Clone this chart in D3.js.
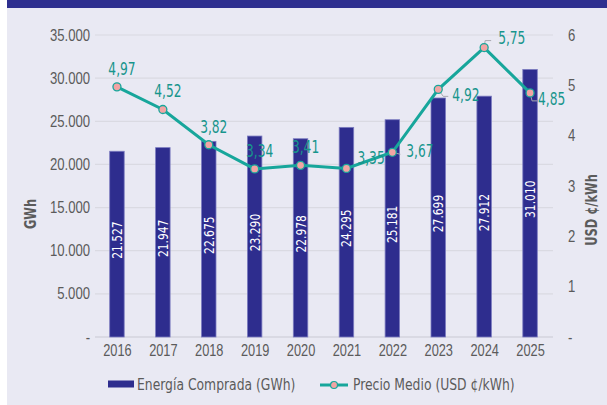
<!DOCTYPE html>
<html>
<head>
<meta charset="utf-8">
<script src="https://cdn.jsdelivr.net/npm/d3@7"></script>
<style>
  body { margin: 0; background: #fff; }
  svg { display: block; font-family: "DejaVu Sans Condensed", "DejaVu Sans", sans-serif; }
</style>
</head>
<body>
<svg width="607" height="405"></svg>
<script>
var years = ["2016", "2017", "2018", "2019", "2020", "2021", "2022", "2023", "2024", "2025"];
var energia = [21527, 21947, 22675, 23290, 22978, 24295, 25181, 27699, 27912, 31010];
var precio = [4.97, 4.52, 3.82, 3.34, 3.41, 3.35, 3.67, 4.92, 5.75, 4.85];
var gwhTicks = [0, 5000, 10000, 15000, 20000, 25000, 30000, 35000];
var priceTicks = [0, 1, 2, 3, 4, 5, 6];
// how each price label sits next to its point
var labelPlace = ["up", "up", "up", "up", "up", "side", "flat", "drop", "top", "drop2"];

var svg = d3.select("svg"),
    W = 607, H = 405;

var loc = d3.formatLocale({decimal: ",", thousands: ".", grouping: [3], currency: ["", ""]}),
    fmtInt = loc.format(","),
    fmtDec = loc.format(".2f");

var navy = "#2e2d8e", teal = "#17a69b", tealText = "#17958c", grey = "#5b5b5b";

// squeeze the font horizontally, the original uses a condensed face
function narrow(sel, sx) {
  sel.each(function() {
    var t = d3.select(this), tx = +t.attr("x") || 0;
    t.attr("x", tx / sx).attr("transform", "scale(" + sx + ",1)");
  });
}

svg.append("rect").attr("x", 7).attr("y", 0).attr("width", W - 7).attr("height", H).attr("fill", "#e9e9f3");
svg.append("rect").attr("x", 7).attr("y", 0).attr("width", W - 7).attr("height", 8).attr("fill", "#2e2f8f");

var x = d3.scalePoint().domain(years).range([94, 553]).padding(0.5),
    y = d3.scaleLinear().domain([0, 35000]).range([337, 35]),
    y2 = d3.scaleLinear().domain([0, 6]).range([337, 35]);

// gridlines
svg.append("g")
  .selectAll("line")
    .data(gwhTicks)
  .enter().append("line")
    .attr("x1", 95).attr("x2", 553)
    .attr("y1", function(d) { return y(d); })
    .attr("y2", function(d) { return y(d); })
    .attr("stroke", function(d) { return d === 0 ? "#c9c9d3" : "#dadae2"; })
    .attr("stroke-width", 1.2);

// left axis
var axL = svg.append("g")
    .attr("transform", "translate(95,0)")
    .call(d3.axisLeft(y).tickValues(gwhTicks).tickSize(0).tickPadding(5)
      .tickFormat(function(d) { return d === 0 ? "-" : fmtInt(d); }));
axL.select(".domain").remove();
axL.selectAll("text").attr("fill", grey).style("font-size", "16px").attr("font-family", null).call(narrow, 0.82);

// right axis
var axR = svg.append("g")
    .attr("transform", "translate(565,0)")
    .call(d3.axisRight(y2).tickValues(priceTicks).tickSize(0).tickPadding(3)
      .tickFormat(function(d) { return d === 0 ? "-" : d; }));
axR.select(".domain").remove();
axR.selectAll("text").attr("fill", grey).style("font-size", "16px").attr("font-family", null).call(narrow, 0.82);

// x axis
var axX = svg.append("g")
    .attr("transform", "translate(0,337)")
    .call(d3.axisBottom(x).tickSize(0).tickPadding(8));
axX.select(".domain").remove();
axX.selectAll("text").attr("fill", grey).style("font-size", "16px").attr("font-family", null).call(narrow, 0.8);

// axis titles
svg.append("text")
    .attr("transform", "translate(36,214) rotate(-90) scale(0.85,1)")
    .attr("text-anchor", "middle")
    .attr("fill", grey).style("font-size", "15px").style("font-weight", "bold")
    .text("GWh");
svg.append("text")
    .attr("transform", "translate(597,210) rotate(-90) scale(0.85,1)")
    .attr("text-anchor", "middle")
    .attr("fill", grey).style("font-size", "15px").style("font-weight", "bold")
    .text("USD ¢/kWh");

// bars
var bw = 14.5;
svg.append("g")
  .selectAll("rect")
    .data(energia)
  .enter().append("rect")
    .attr("x", function(d, i) { return x(years[i]) - bw / 2; })
    .attr("y", function(d) { return y(d); })
    .attr("width", bw)
    .attr("height", function(d) { return y(0) - y(d); })
    .attr("fill", navy)
    .attr("stroke", "#7c7cc0")
    .attr("stroke-width", 0.8);

svg.append("g")
  .selectAll("text")
    .data(energia)
  .enter().append("text")
    .attr("transform", function(d, i) {
      var cy = (y(d) + y(0)) / 2 - 4;
      return "translate(" + (x(years[i]) + 5) + "," + cy + ") rotate(-90) scale(0.85,1)";
    })
    .attr("text-anchor", "middle")
    .attr("fill", "#fff")
    .style("font-size", "14px")
    .text(function(d) { return fmtInt(d); });

// price line
var line = d3.line()
    .x(function(d, i) { return x(years[i]); })
    .y(function(d) { return y2(d); });

svg.append("path")
    .datum(precio)
    .attr("fill", "none")
    .attr("stroke", teal)
    .attr("stroke-width", 3)
    .attr("d", line);

// leaders
var leaders = svg.append("g").attr("fill", "none").attr("stroke", "#a8a8b0").attr("stroke-width", 1);
precio.forEach(function(d, i) {
  var px = x(years[i]), py = y2(d), p = labelPlace[i], path = null;
  if (p === "flat") path = [[px, py], [px + 8, py + 2]];
  if (p === "drop") path = [[px, py], [px + 5, py + 7], [px + 10, py + 7]];
  if (p === "drop2") path = [[px, py], [px + 2, py + 8], [px + 7, py + 8]];
  if (p === "top") path = [[px, py], [px + 1, py - 7], [px + 7, py - 7]];
  if (path) leaders.append("path").attr("d", d3.line()(path));
});

svg.append("g")
  .selectAll("circle")
    .data(precio)
  .enter().append("circle")
    .attr("cx", function(d, i) { return x(years[i]); })
    .attr("cy", function(d) { return y2(d); })
    .attr("r", 4)
    .attr("fill", "#f2a4a4")
    .attr("stroke", teal)
    .attr("stroke-width", 1.3);

var offs = {
  up: [5, -12], side: [11, -4], flat: [14, 5], drop: [14, 12], drop2: [8, 12], top: [14, -4]
};
svg.append("g")
  .selectAll("text")
    .data(precio)
  .enter().append("text")
    .attr("transform", function(d, i) {
      var o = offs[labelPlace[i]];
      return "translate(" + (x(years[i]) + o[0]) + "," + (y2(d) + o[1]) + ") scale(0.8,1)";
    })
    .attr("text-anchor", function(d, i) { return labelPlace[i] === "up" ? "middle" : "start"; })
    .attr("fill", tealText)
    .style("font-size", "17px")
    .text(function(d) { return fmtDec(d); });

// legend
var lg = svg.append("g").attr("transform", "translate(0,384)");
lg.append("rect").attr("x", 108).attr("y", -3.5).attr("width", 26).attr("height", 7).attr("fill", navy);
lg.append("text").attr("transform", "translate(137,5.5) scale(0.86,1)").attr("fill", grey).style("font-size", "16px").text("Energía Comprada (GWh)");
lg.append("line").attr("x1", 320).attr("x2", 348).attr("y1", 1).attr("y2", 1).attr("stroke", teal).attr("stroke-width", 3);
lg.append("circle").attr("cx", 334).attr("cy", 1).attr("r", 3.5).attr("fill", "#f2a4a4").attr("stroke", teal).attr("stroke-width", 1.2);
lg.append("text").attr("transform", "translate(353,5.5) scale(0.86,1)").attr("fill", grey).style("font-size", "16px").text("Precio Medio (USD ¢/kWh)");
</script>
</body>
</html>
